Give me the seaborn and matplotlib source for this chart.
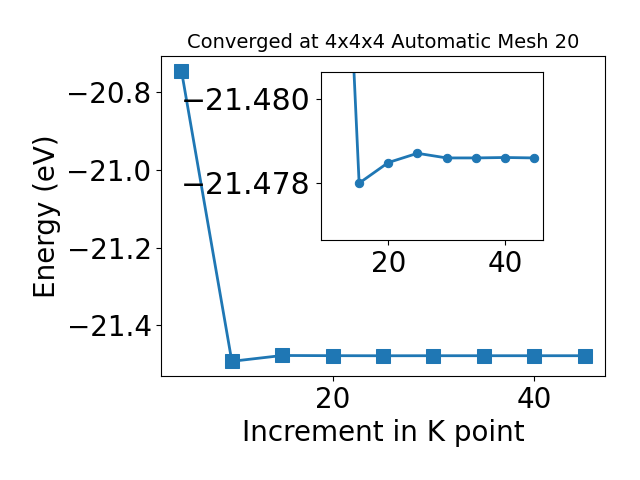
import matplotlib
matplotlib.use("Agg")
import matplotlib.pyplot as plt
import seaborn as sns

# k-point increments and converged energies (eV)
kpoints = [5, 10, 15, 20, 25, 30, 35, 40, 45]
energy_main = [-20.744, -21.493, -21.47799, -21.47848, -21.47870,
               -21.47859, -21.47859, -21.47860, -21.47859]
kpoints_zoom = kpoints[1:]
energy_zoom = energy_main[1:]

fig = plt.figure(figsize=(6.4, 4.8), dpi=100)
ax = fig.add_axes([0.252, 0.217, 0.693, 0.666])
sns.lineplot(x=kpoints, y=energy_main, ax=ax, marker='s', markersize=10,
             linewidth=2, color='#1f77b4', markeredgecolor='#1f77b4')
ax.set_xlim(3.0, 47.0)
ax.set_xticks([20, 40])
ax.set_yticks([-21.4, -21.2, -21.0, -20.8])
ax.tick_params(labelsize=20)
ax.set_xlabel('Increment in K point', fontsize=20)
ax.set_ylabel('Energy (eV)', fontsize=20)
ax.set_title('Converged at 4x4x4 Automatic Mesh 20', fontsize=14)

ins = fig.add_axes([0.501, 0.5, 0.348, 0.349])
sns.lineplot(x=kpoints_zoom, y=energy_zoom, ax=ins, marker='o', markersize=6,
             linewidth=2, color='#1f77b4', markeredgecolor='#1f77b4')
ins.set_xlim(8.4, 46.6)
ins.set_ylim(-21.47664, -21.48062)
ins.set_xticks([20, 40])
ins.set_yticks([-21.480, -21.478])
ins.ticklabel_format(axis='y', useOffset=False)
ins.tick_params(axis='x', labelsize=20)
ins.tick_params(axis='y', labelsize=21.5)

fig.savefig('out.png', dpi=100)
